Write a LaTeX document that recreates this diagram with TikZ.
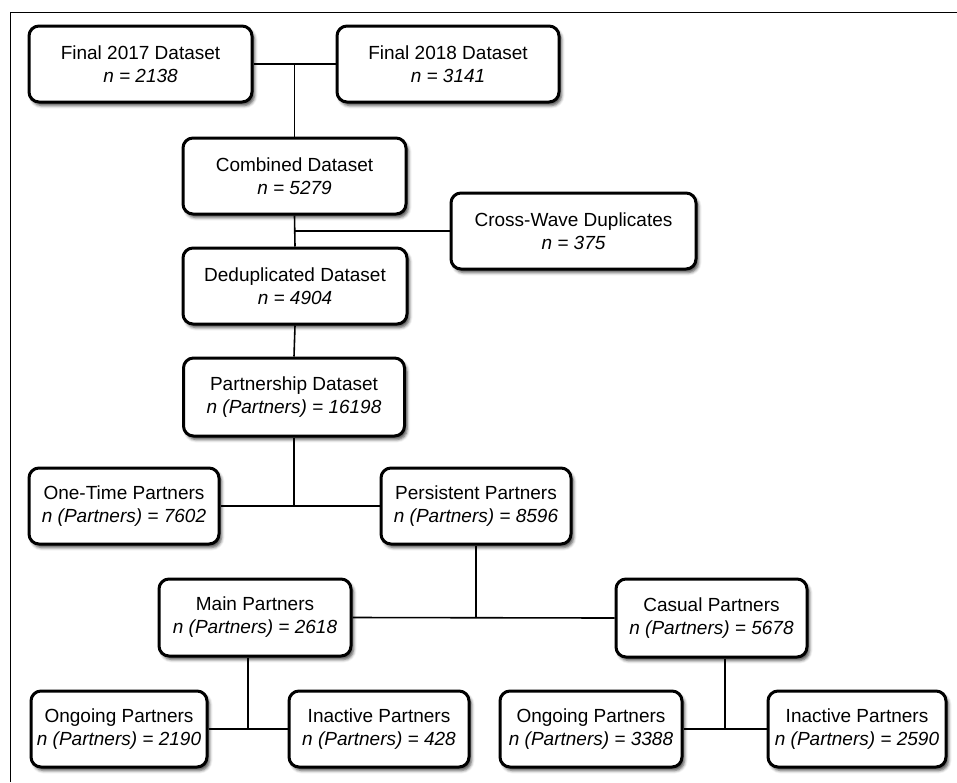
\documentclass[tikz,border=0pt]{standalone}
\usepackage{fontspec}
\setmainfont{Liberation Sans}
\usetikzlibrary{calc}
\usetikzlibrary{shadows.blur}

\begin{document}
\begin{tikzpicture}[x=1pt, y=-1pt,
  stage/.style={draw=black, line width=3pt, rounded corners=10pt, fill=white,
    align=center, inner sep=0pt, minimum height=76pt, font=\fontsize{19}{23}\selectfont,
    blur shadow={shadow xshift=2.5pt, shadow yshift=-3.5pt, shadow blur radius=3pt, shadow opacity=70}},
  link/.style={black, line width=1.6pt}]
  \useasboundingbox (0,0) rectangle (957,782);
  \draw[line width=0.9pt] (10,782) -- (10,12) -- (957,12);

  % datasets
  \node[stage, minimum width=223pt] (f17) at (140.5,64) {Final 2017 Dataset\\\textit{n = 2138}};
  \node[stage, minimum width=222pt] (f18) at (448,64) {Final 2018 Dataset\\\textit{n = 3141}};
  \node[stage, minimum width=223pt] (comb) at (294.5,176) {Combined Dataset\\\textit{n = 5279}};
  \node[stage, minimum width=245pt] (cross) at (573.5,231) {Cross-Wave Duplicates\\\textit{n = 375}};
  \node[stage, minimum width=224pt] (dedup) at (295,286) {Deduplicated Dataset\\\textit{n = 4904}};
  \node[stage, minimum width=221pt, minimum height=78pt] (part) at (294,397) {Partnership Dataset\\\textit{n (Partners) = 16198}};

  % partners
  \node[stage, minimum width=190pt] (once) at (124,506) {One-Time Partners\\\textit{n (Partners) = 7602}};
  \node[stage, minimum width=190pt] (pers) at (476,506) {Persistent Partners\\\textit{n (Partners) = 8596}};
  \node[stage, minimum width=192pt, minimum height=77pt] (mainp) at (255,617.5) {Main Partners\\\textit{n (Partners) = 2618}};
  \node[stage, minimum width=191pt, minimum height=78pt] (casual) at (711.5,618) {Casual Partners\\\textit{n (Partners) = 5678}};
  \node[stage, minimum width=176pt] (ongL) at (119,729) {Ongoing Partners\\\textit{n (Partners) = 2190}};
  \node[stage, minimum width=180pt] (inaL) at (379,729) {Inactive Partners\\\textit{n (Partners) = 428}};
  \node[stage, minimum width=182pt] (ongR) at (591,729) {Ongoing Partners\\\textit{n (Partners) = 3388}};
  \node[stage, minimum width=178pt] (inaR) at (857,729) {Inactive Partners\\\textit{n (Partners) = 2590}};

  \coordinate (jL) at ($(ongL.east)!0.5!(inaL.west)$);
  \coordinate (jR) at ($(ongR.east)!0.5!(inaR.west)$);

  % connectors
  \draw[link] (f17.east) -- (f18.west);
  \draw[link] (f17.east -| comb.north) -- (comb.north);
  \draw[link] (comb.south) -- (dedup.north);
  \draw[link] (comb.south |- cross.west) -- (cross.west);
  \draw[link] (dedup.south) -- (part.north);
  \draw[link] (part.south) -- (part.south |- once.east);
  \draw[link] (once.east) -- (pers.west);
  \draw[link] (pers.south) -- (pers.south |- mainp.east);
  \draw[link] (mainp.east) -- (casual.west);
  \draw[link] (mainp.south -| jL) -- (jL);
  \draw[link] (ongL.east) -- (inaL.west);
  \draw[link] (casual.south -| jR) -- (jR);
  \draw[link] (ongR.east) -- (inaR.west);
\end{tikzpicture}
\end{document}
